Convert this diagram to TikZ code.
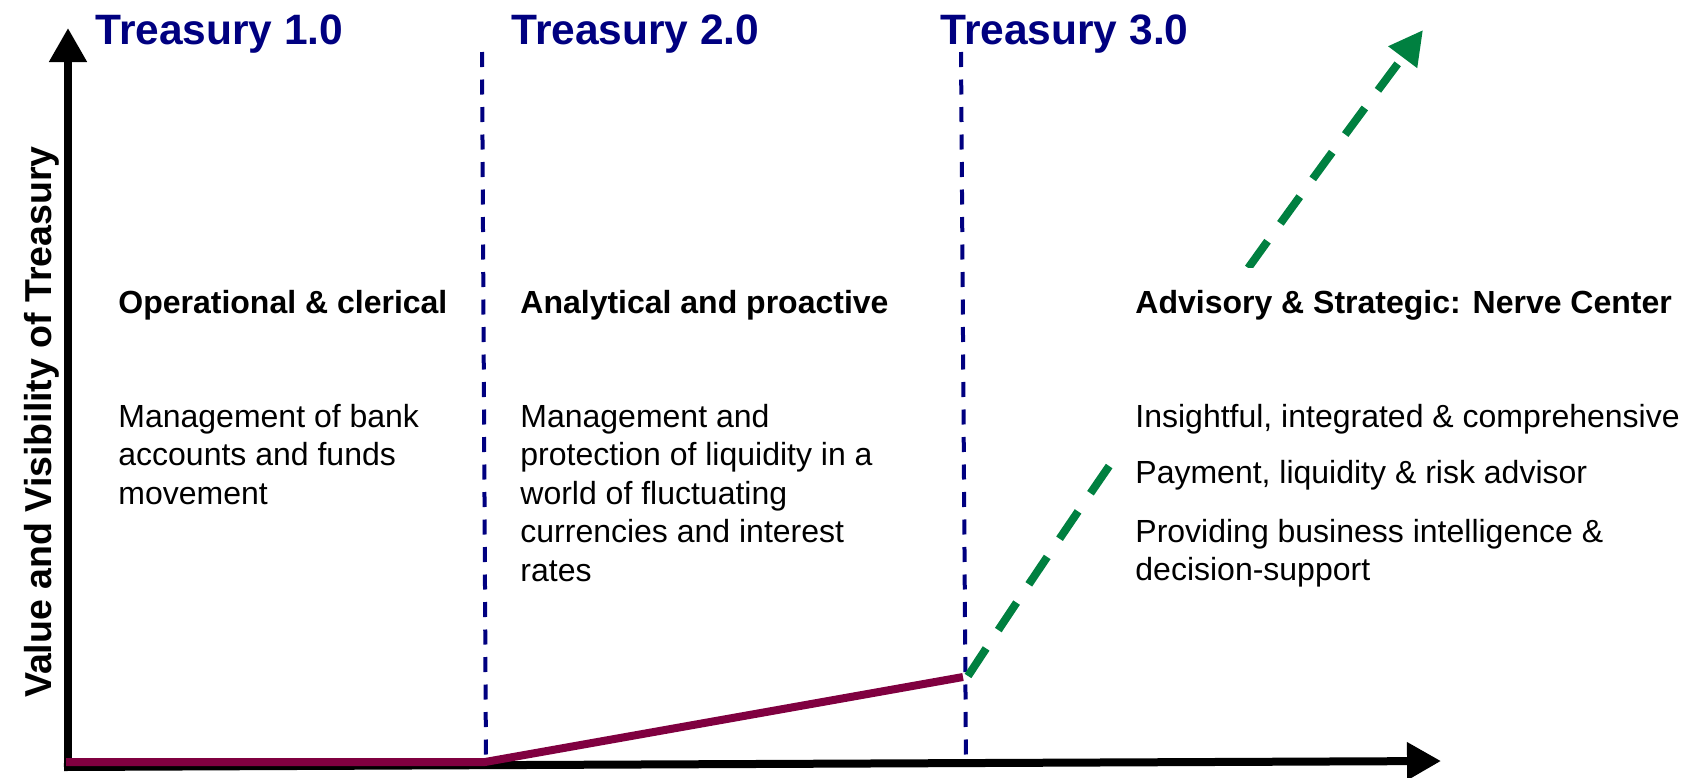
\documentclass[tikz,border=0pt]{standalone}
\usepackage{fontspec}
\setmainfont{Liberation Sans}
\usetikzlibrary{arrows.meta}
\definecolor{navyT}{HTML}{000080}
\definecolor{maroonL}{HTML}{800040}
\definecolor{greenL}{HTML}{008040}
\begin{document}
\begin{tikzpicture}[x=0.5pt,y=-0.5pt,
  axis/.style={line width=4pt, -{Triangle[length=17pt,width=18pt]}},
  era/.style={navyT, line width=2pt, dash pattern=on 7.5pt off 6.25pt},
  growth/.style={maroonL, line width=4pt},
  future/.style={greenL, line width=4pt, dash pattern=on 16.5pt off 11pt, -{Triangle[length=17pt,width=17pt]}},
  titletxt/.style={anchor=base west, inner sep=0pt, text=navyT, font=\fontsize{21.25}{25}\selectfont\bfseries},
  headtxt/.style={anchor=base west, inner sep=0pt, font=\fontsize{16}{19}\selectfont\bfseries},
  bodytxt/.style={anchor=base west, inner sep=0pt, font=\fontsize{16}{19}\selectfont},
]
\useasboundingbox (0,0) rectangle (1695,777);
% axes
\coordinate (Ybot) at (68,771);
\coordinate (Ytip) at (68,28);
\coordinate (Xleft) at (64,767);
\coordinate (Xtip) at (1441,761);
\draw[axis] (Ybot) -- (Ytip);
\draw[axis] (Xleft) -- (Xtip);
% era separators
\coordinate (d1t) at (482,52);
\coordinate (d1b) at (486,766);
\coordinate (d2t) at (961,52);
\coordinate (d2b) at (966,766);
\draw[era] (d1t) -- (d1b);
\draw[era] (d2t) -- (d2b);
% growth line
\coordinate (p0) at (66,762);
\coordinate (p1) at (485,762);
\coordinate (p2) at (963,677);
\draw[growth] (p0) -- (p1) -- (p2);
% future arrow
\coordinate (g0) at (968,676);
\coordinate (g1) at (1423,30);
\draw[future] (g0) .. controls (1109,461) and (1262,245) .. (g1);
% white backing of third column
\node[fill=white, inner sep=0pt, anchor=north west, minimum width=290pt, minimum height=165pt] (c3bg) at (1115,268) {};
% titles
\node[titletxt] (t1) at (95,44) {Treasury 1.0};
\node[titletxt] (t2) at (511,44) {Treasury 2.0};
\node[titletxt] (t3) at (940,44) {Treasury 3.0};
% headings
\node[headtxt] (h1) at (118,313) {Operational \& clerical};
\node[headtxt] (h2) at (520,313) {Analytical and proactive};
\node[headtxt] (h3) at (1135,313) {Advisory \& Strategic: Nerve Center};
% column 1
\node[bodytxt] (b11) at (118,427) {Management of bank};
\node[bodytxt] (b12) at (118,465.5) {accounts and funds};
\node[bodytxt] (b13) at (118,504) {movement};
% column 2
\node[bodytxt] (b21) at (520,427) {Management and};
\node[bodytxt] (b22) at (520,465.5) {protection of liquidity in a};
\node[bodytxt] (b23) at (520,504) {world of fluctuating};
\node[bodytxt] (b24) at (520,542.5) {currencies and interest};
\node[bodytxt] (b25) at (520,581) {rates};
% column 3
\node[bodytxt] (b31) at (1135,427) {Insightful, integrated \& comprehensive};
\node[bodytxt] (b32) at (1135,483) {Payment, liquidity \& risk advisor};
\node[bodytxt] (b33) at (1135,542) {Providing business intelligence \&};
\node[bodytxt] (b34) at (1135,580) {decision-support};
% y label
\node[rotate=90, anchor=base, inner sep=0pt, font=\fontsize{18.75}{22}\selectfont\bfseries] (ylab) at (51,422) {Value and Visibility of Treasury};
\end{tikzpicture}
\end{document}
